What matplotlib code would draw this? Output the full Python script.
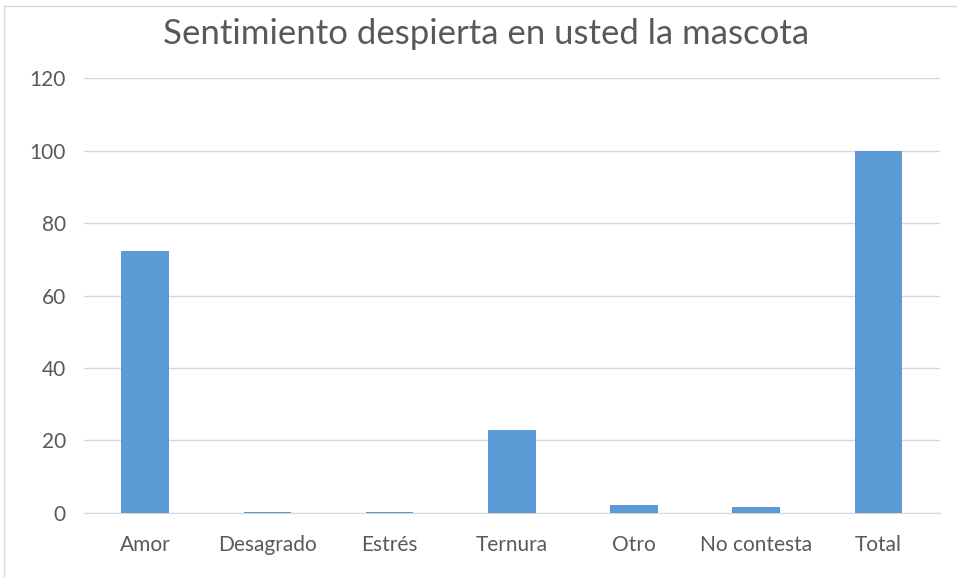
import numpy as np
import matplotlib.pyplot as plt
from matplotlib.patches import Rectangle

# datos
categorias = ['Amor', 'Desagrado', 'Estrés', 'Ternura', 'Otro', 'No contesta', 'Total']
valores = [72.3, 0.4, 0.4, 22.9, 2.2, 1.7, 100]

plt.rcParams['font.family'] = ['Lato', 'DejaVu Sans']
gris = '#595959'

fig = plt.figure(figsize=(9.57, 5.78), dpi=100)
ax = fig.add_axes([0.0878, 0.1125, 0.894, 0.7525])

x = np.arange(len(categorias))
ax.bar(x, valores, width=0.39, color='#5B9BD5', zorder=3)

ax.set_xlim(-0.5, len(categorias) - 0.5)
ax.set_ylim(0, 120)
ax.set_yticks(np.arange(0, 121, 20))
ax.set_xticks(x)
ax.set_xticklabels(categorias)
ax.grid(axis='y', color='#D9D9D9', linewidth=1, zorder=0)
ax.tick_params(axis='both', length=0, labelsize=15, colors=gris)
ax.tick_params(axis='x', pad=16)
ax.tick_params(axis='y', pad=13)
for s in ['top', 'right', 'left']:
    ax.spines[s].set_visible(False)
ax.spines['bottom'].set_color('#D9D9D9')

fig.text(0.508, 0.942, 'Sentimiento despierta en usted la mascota', ha='center',
         va='center', fontsize=25, color=gris)

# marco del grafico
fig.patches.append(Rectangle((0.004, -0.01), 1.0, 1.0, transform=fig.transFigure,
                             fill=False, edgecolor='#D9D9D9', linewidth=1))

plt.savefig('out.png', dpi=100)
